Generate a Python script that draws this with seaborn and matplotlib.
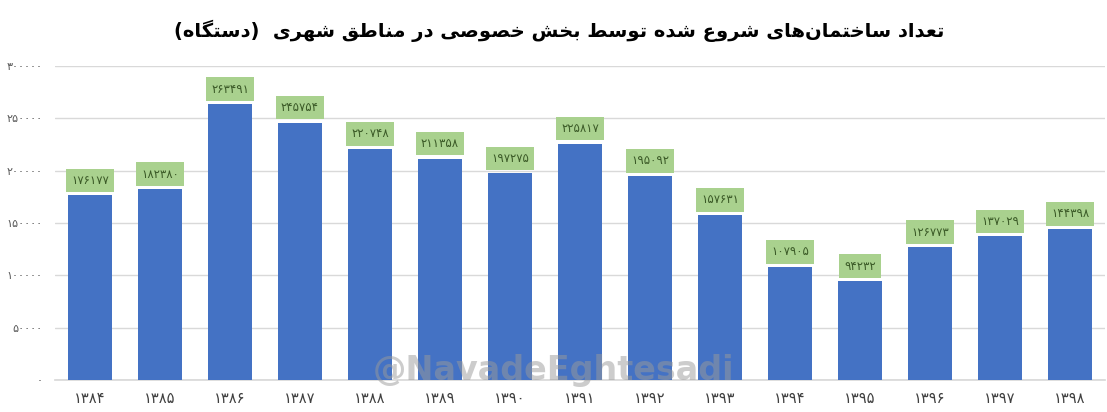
import matplotlib
matplotlib.use("Agg")
import matplotlib.pyplot as plt
import seaborn as sns
import pandas as pd

# ---- data ----
years = ["۱۳۸۴", "۱۳۸۵", "۱۳۸۶", "۱۳۸۷", "۱۳۸۸", "۱۳۸۹", "۱۳۹۰", "۱۳۹۱",
         "۱۳۹۲", "۱۳۹۳", "۱۳۹۴", "۱۳۹۵", "۱۳۹۶", "۱۳۹۷", "۱۳۹۸"]
values = [176177, 182380, 263491, 245754, 220748, 211358, 197275, 225817,
          195092, 157631, 107905, 94232, 126773, 137029, 144398]
y_ticks = [0, 50000, 100000, 150000, 200000, 250000, 300000]
title_text = "تعداد ساختمان‌های شروع شده توسط بخش خصوصی در مناطق شهری  (دستگاه)"
watermark = "@NavadeEghtesadi"

# ---- helpers: Persian digits and simple Arabic-script shaping ----
PDIG = str.maketrans("0123456789", "۰۱۲۳۴۵۶۷۸۹")

def fa(n):
    return str(n).translate(PDIG)

FORMS = {  # iso, fin, ini, med
    "ا": ("\uFE8D", "\uFE8E", None, None),
    "ب": ("\uFE8F", "\uFE90", "\uFE91", "\uFE92"),
    "ت": ("\uFE95", "\uFE96", "\uFE97", "\uFE98"),
    "خ": ("\uFEA5", "\uFEA6", "\uFEA7", "\uFEA8"),
    "د": ("\uFEA9", "\uFEAA", None, None),
    "ر": ("\uFEAD", "\uFEAE", None, None),
    "س": ("\uFEB1", "\uFEB2", "\uFEB3", "\uFEB4"),
    "ش": ("\uFEB5", "\uFEB6", "\uFEB7", "\uFEB8"),
    "ص": ("\uFEB9", "\uFEBA", "\uFEBB", "\uFEBC"),
    "ط": ("\uFEC1", "\uFEC2", "\uFEC3", "\uFEC4"),
    "ع": ("\uFEC9", "\uFECA", "\uFECB", "\uFECC"),
    "ق": ("\uFED5", "\uFED6", "\uFED7", "\uFED8"),
    "م": ("\uFEE1", "\uFEE2", "\uFEE3", "\uFEE4"),
    "ن": ("\uFEE5", "\uFEE6", "\uFEE7", "\uFEE8"),
    "ه": ("\uFEE9", "\uFEEA", "\uFEEB", "\uFEEC"),
    "و": ("\uFEED", "\uFEEE", None, None),
    "ی": ("\uFBFC", "\uFBFD", "\uFBFE", "\uFBFF"),
    "گ": ("\uFB92", "\uFB93", "\uFB94", "\uFB95"),
}

def shape_rtl(s):
    out = []
    n = len(s)
    for i, c in enumerate(s):
        if c not in FORMS:
            if c == "\u200c":
                continue
            out.append(c)
            continue
        f = FORMS[c]
        prev = s[i - 1] if i > 0 else ""
        nxt = s[i + 1] if i + 1 < n else ""
        join_prev = prev in FORMS and FORMS[prev][2] is not None
        join_next = f[2] is not None and nxt in FORMS
        if join_prev and join_next:
            out.append(f[3])
        elif join_prev:
            out.append(f[1])
        elif join_next:
            out.append(f[2])
        else:
            out.append(f[0])
    vis = "".join(reversed(out))
    return vis.translate(str.maketrans("()", ")("))

# ---- plot ----
df = pd.DataFrame({"year": years, "value": values})

sns.set_theme(style="white")
plt.rcParams["font.family"] = ["DejaVu Sans"]

fig = plt.figure(figsize=(11.07, 4.12), dpi=100)
ax = fig.add_axes([0.0497, 0.078, 0.9485, 0.762])

sns.barplot(data=df, x="year", y="value", color="#4472C4", saturation=1,
            width=0.63, linewidth=0, ax=ax, zorder=3)

ax.set_xlim(-0.5, len(years) - 0.5)
ax.set_ylim(0, 300000)
ax.set_yticks(y_ticks)
ax.set_yticklabels([fa(t) for t in y_ticks], fontsize=8, color="#595959")
ax.tick_params(axis="y", length=0, pad=9)
ax.tick_params(axis="x", length=0, labelsize=10.5, labelcolor="#404040", pad=8)
ax.set_xlabel("")
ax.set_ylabel("")
ax.yaxis.grid(True, color="#d9d9d9", linewidth=1, zorder=0)
ax.set_axisbelow(True)
for sp in ["top", "right", "left"]:
    ax.spines[sp].set_visible(False)
ax.spines["bottom"].set_color("#d9d9d9")

for i, v in enumerate(values):
    ax.annotate(fa(v), xy=(i, v), xytext=(0, 15), textcoords="offset pixels",
                ha="center", va="center", fontsize=8.5, color="#3b5a27",
                bbox=dict(boxstyle="square,pad=0.45", fc="#A9D18E", ec="none"),
                zorder=5)

fig.text(0.505, 0.925, shape_rtl(title_text), ha="center", va="center",
         fontsize=14, fontweight="bold", color="black")

fig.text(0.5, 0.1, watermark, ha="center", va="center", fontsize=24,
         fontweight="bold", color="#9a9a9a", alpha=0.5, zorder=10)

fig.savefig("out.png", dpi=100)
